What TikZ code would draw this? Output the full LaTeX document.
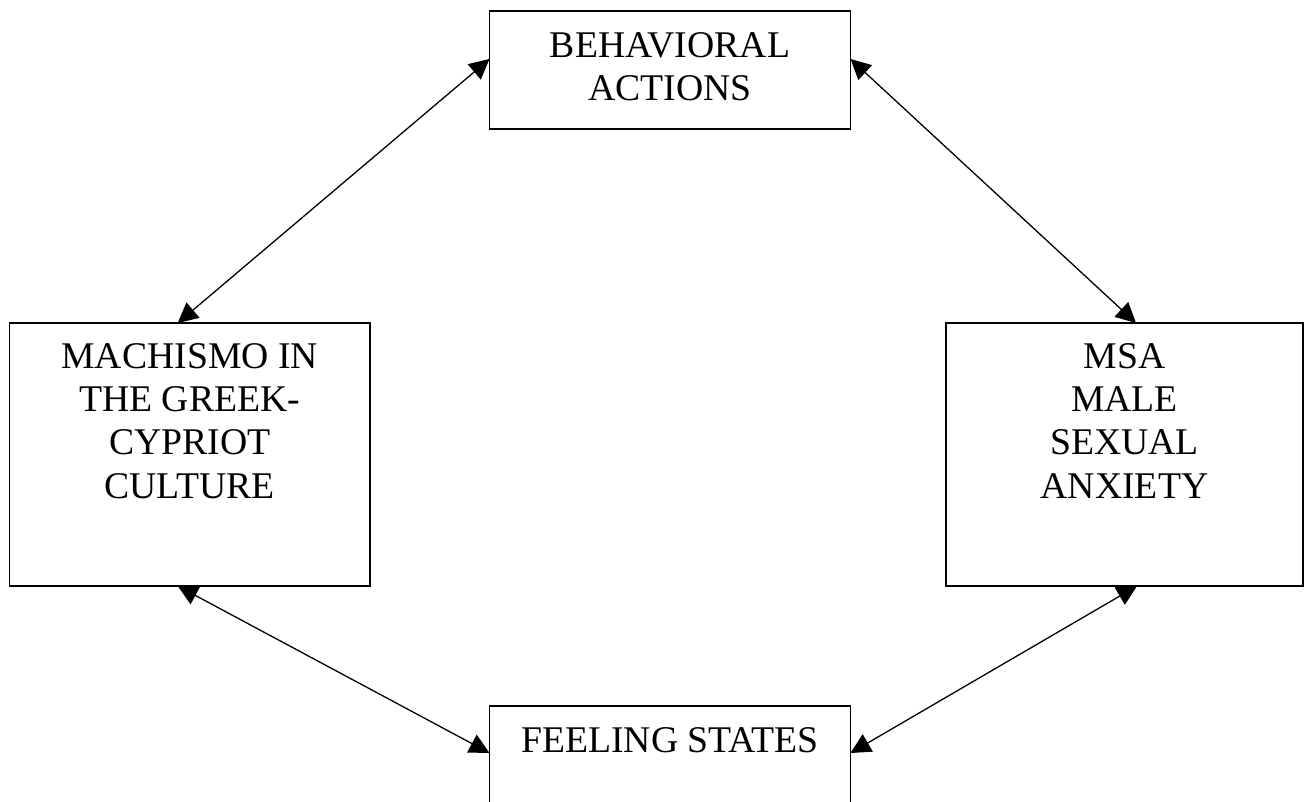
\documentclass[tikz,border=0pt]{standalone}
\usepackage{fontspec}
\setmainfont{Liberation Serif}
\usetikzlibrary{arrows.meta,calc}
\begin{document}
\begin{tikzpicture}[x=1pt,y=1pt,
  box/.style={draw=black,line width=1.6pt,fill=white,inner sep=0pt,outer sep=0pt},
  label/.style={inner sep=0pt,align=center,anchor=north,font=\fontsize{37.7pt}{43.3pt}\selectfont},
  link/.style={line width=1.3pt,{Triangle[length=20pt,width=20pt]}-{Triangle[length=20pt,width=20pt]}}]
\clip (0,0) rectangle (1308,801);
\fill[white] (0,0) rectangle (1308,801);
% boxes
\node[box,minimum width=361pt,minimum height=118pt] (top) at (670,731) {};
\node[box,minimum width=360.5pt,minimum height=263pt] (left) at (189.75,346.5) {};
\node[box,minimum width=357pt,minimum height=263pt] (right) at (1124.5,346.5) {};
\node[box,minimum width=361pt,minimum height=125pt] (bottom) at (670,32.5) {};
% texts
\node[label,yshift=-21pt] (toptext) at (top.north) {BEHAVIORAL\\ACTIONS};
\node[label,yshift=-20pt] (lefttext) at (left.north) {MACHISMO IN\\THE GREEK-\\CYPRIOT\\CULTURE};
\node[label,yshift=-20pt] (righttext) at (right.north) {MSA\\MALE\\SEXUAL\\ANXIETY};
\node[label,yshift=-21pt] (bottomtext) at (bottom.north) {FEELING STATES};
% connector ends
\coordinate (tl) at ([yshift=-48pt]top.north west);
\coordinate (tr) at ([yshift=-48pt]top.north east);
\coordinate (lt) at ([xshift=-12pt]left.north);
\coordinate (rt) at ([xshift=11.5pt]right.north);
\coordinate (lb) at ([xshift=-12pt]left.south);
\coordinate (rb) at ([xshift=12.5pt]right.south);
\coordinate (bl) at ([yshift=-47pt]bottom.north west);
\coordinate (br) at ([yshift=-47pt]bottom.north east);
% connectors
\draw[link] (lt) -- (tl);
\draw[link] (tr) -- (rt);
\draw[link] (lb) -- (bl);
\draw[link] (br) -- (rb);
\end{tikzpicture}
\end{document}
